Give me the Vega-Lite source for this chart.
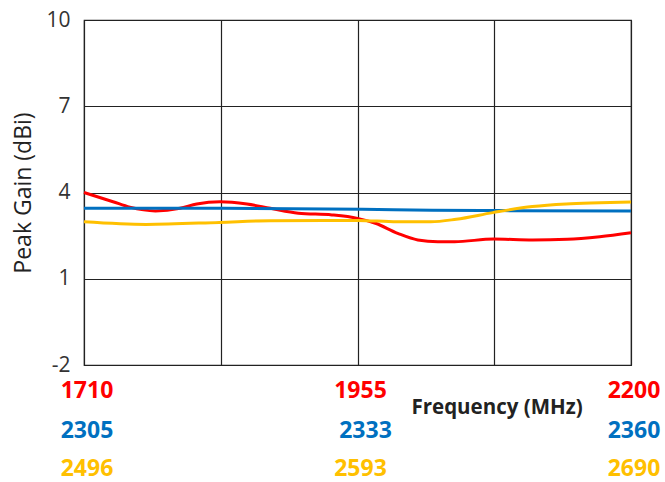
{
  "$schema": "https://vega.github.io/schema/vega-lite/v6.json",
  "width": 547,
  "height": 345,
  "autosize": {"type": "none"},
  "padding": {"left": 84, "top": 20, "right": 34, "bottom": 117},
  "background": "white",
  "config": {
    "view": {"stroke": "#222", "strokeWidth": 1.2},
    "font": "Open Sans"
  },
  "datasets": {
    "curves": [
      {"series": "1710-2200", "freq": 1710, "gain": 4.0},
      {"series": "1710-2200", "freq": 1736, "gain": 3.68},
      {"series": "1710-2200", "freq": 1751, "gain": 3.49},
      {"series": "1710-2200", "freq": 1774, "gain": 3.36},
      {"series": "1710-2200", "freq": 1796, "gain": 3.45},
      {"series": "1710-2200", "freq": 1811, "gain": 3.6},
      {"series": "1710-2200", "freq": 1832, "gain": 3.68},
      {"series": "1710-2200", "freq": 1856, "gain": 3.6},
      {"series": "1710-2200", "freq": 1877, "gain": 3.45},
      {"series": "1710-2200", "freq": 1902, "gain": 3.28},
      {"series": "1710-2200", "freq": 1932, "gain": 3.22},
      {"series": "1710-2200", "freq": 1955, "gain": 3.1},
      {"series": "1710-2200", "freq": 1971, "gain": 2.93},
      {"series": "1710-2200", "freq": 1991, "gain": 2.58},
      {"series": "1710-2200", "freq": 2009, "gain": 2.35},
      {"series": "1710-2200", "freq": 2027, "gain": 2.29},
      {"series": "1710-2200", "freq": 2042, "gain": 2.29},
      {"series": "1710-2200", "freq": 2077, "gain": 2.38},
      {"series": "1710-2200", "freq": 2112, "gain": 2.35},
      {"series": "1710-2200", "freq": 2143, "gain": 2.37},
      {"series": "1710-2200", "freq": 2172, "gain": 2.46},
      {"series": "1710-2200", "freq": 2200, "gain": 2.6},
      {"series": "2305-2360", "freq": 2305, "gain": 3.45},
      {"series": "2305-2360", "freq": 2319, "gain": 3.45},
      {"series": "2305-2360", "freq": 2333, "gain": 3.42},
      {"series": "2305-2360", "freq": 2340, "gain": 3.38},
      {"series": "2305-2360", "freq": 2347, "gain": 3.37},
      {"series": "2305-2360", "freq": 2360, "gain": 3.36},
      {"series": "2496-2690", "freq": 2496, "gain": 2.98},
      {"series": "2496-2690", "freq": 2518, "gain": 2.89},
      {"series": "2496-2690", "freq": 2544, "gain": 2.96},
      {"series": "2496-2690", "freq": 2562, "gain": 3.02},
      {"series": "2496-2690", "freq": 2593, "gain": 3.03},
      {"series": "2496-2690", "freq": 2607, "gain": 2.98},
      {"series": "2496-2690", "freq": 2619, "gain": 2.98},
      {"series": "2496-2690", "freq": 2628, "gain": 3.07},
      {"series": "2496-2690", "freq": 2641, "gain": 3.3},
      {"series": "2496-2690", "freq": 2655, "gain": 3.51},
      {"series": "2496-2690", "freq": 2667, "gain": 3.6},
      {"series": "2496-2690", "freq": 2679, "gain": 3.64},
      {"series": "2496-2690", "freq": 2690, "gain": 3.67}
    ],
    "ticks": [
      {"series": "1710-2200", "freq": 1710, "label": "1710"},
      {"series": "1710-2200", "freq": 1955, "label": "1955"},
      {"series": "1710-2200", "freq": 2200, "label": "2200"},
      {"series": "2305-2360", "freq": 2305, "label": "2305"},
      {"series": "2305-2360", "freq": 2333, "label": "2333"},
      {"series": "2305-2360", "freq": 2360, "label": "2360"},
      {"series": "2496-2690", "freq": 2496, "label": "2496"},
      {"series": "2496-2690", "freq": 2593, "label": "2593"},
      {"series": "2496-2690", "freq": 2690, "label": "2690"}
    ]
  },
  "layer": [
    {
      "layer": [
        {
          "data": {"name": "curves"},
          "transform": [{"filter": "datum.series === '1710-2200'"}],
          "mark": {"type": "line", "color": "#FF0000", "strokeWidth": 3, "interpolate": "monotone"},
          "encoding": {
            "x": {
              "field": "freq",
              "type": "quantitative",
              "scale": {"domain": [1710, 2200], "nice": false, "zero": false},
              "axis": {
                "values": [1710, 1832.5, 1955, 2077.5, 2200],
                "labels": false,
                "ticks": false,
                "domain": false,
                "grid": true,
                "gridColor": "#222",
                "gridWidth": 1.2,
                "gridOpacity": 1,
                "title": null
              }
            },
            "y": {
              "field": "gain",
              "type": "quantitative",
              "scale": {"domain": [-2, 10], "nice": false, "zero": false},
              "axis": {
                "values": [-2, 1, 4, 7, 10],
                "labelExpr": "'' + datum.value",
                "title": "Peak Gain (dBi)",
                "titleFontSize": 23,
                "titleFontWeight": "normal",
                "titleColor": "#222",
                "titlePadding": 10,
                "labelFontSize": 21,
                "labelColor": "#333",
                "labelPadding": 14,
                "ticks": false,
                "domain": false,
                "grid": true,
                "gridColor": "#222",
                "gridWidth": 1.2,
                "gridOpacity": 1
              }
            }
          }
        },
        {
          "data": {"name": "ticks"},
          "transform": [{"filter": "datum.series === '1710-2200'"}],
          "mark": {"type": "text", "color": "#FF0000", "fontSize": 23, "fontWeight": "bold", "font": "Open Sans", "align": "center", "baseline": "middle", "dx": 3, "clip": false},
          "encoding": {
            "x": {"field": "freq", "type": "quantitative"},
            "y": {"datum": -2.92, "type": "quantitative"},
            "text": {"field": "label"}
          }
        },
        {
          "data": {"values": [{"title": "Frequency (MHz)"}]},
          "mark": {"type": "text", "color": "#222", "fontSize": 20.5, "fontWeight": "bold", "font": "Open Sans", "align": "center", "baseline": "middle", "clip": false},
          "encoding": {
            "x": {"datum": 2080, "type": "quantitative"},
            "y": {"datum": -3.5, "type": "quantitative"},
            "text": {"field": "title"}
          }
        }
      ]
    },
    {
      "layer": [
        {
          "data": {"name": "curves"},
          "transform": [{"filter": "datum.series === '2305-2360'"}],
          "mark": {"type": "line", "color": "#0070C0", "strokeWidth": 3, "interpolate": "monotone"},
          "encoding": {
            "x": {
              "field": "freq",
              "type": "quantitative",
              "scale": {"domain": [2305, 2360], "nice": false, "zero": false},
              "axis": null
            },
            "y": {"field": "gain", "type": "quantitative"}
          }
        },
        {
          "data": {"name": "ticks"},
          "transform": [{"filter": "datum.series === '2305-2360'"}],
          "mark": {"type": "text", "color": "#0070C0", "fontSize": 23, "fontWeight": "bold", "font": "Open Sans", "align": "center", "baseline": "middle", "dx": 3, "clip": false},
          "encoding": {
            "x": {"field": "freq", "type": "quantitative"},
            "y": {"datum": -4.28, "type": "quantitative"},
            "text": {"field": "label"}
          }
        }
      ]
    },
    {
      "layer": [
        {
          "data": {"name": "curves"},
          "transform": [{"filter": "datum.series === '2496-2690'"}],
          "mark": {"type": "line", "color": "#FFC000", "strokeWidth": 3, "interpolate": "monotone"},
          "encoding": {
            "x": {
              "field": "freq",
              "type": "quantitative",
              "scale": {"domain": [2496, 2690], "nice": false, "zero": false},
              "axis": null
            },
            "y": {"field": "gain", "type": "quantitative"}
          }
        },
        {
          "data": {"name": "ticks"},
          "transform": [{"filter": "datum.series === '2496-2690'"}],
          "mark": {"type": "text", "color": "#FFC000", "fontSize": 23, "fontWeight": "bold", "font": "Open Sans", "align": "center", "baseline": "middle", "dx": 3, "clip": false},
          "encoding": {
            "x": {"field": "freq", "type": "quantitative"},
            "y": {"datum": -5.6, "type": "quantitative"},
            "text": {"field": "label"}
          }
        }
      ]
    }
  ],
  "resolve": {"scale": {"x": "independent"}}
}
